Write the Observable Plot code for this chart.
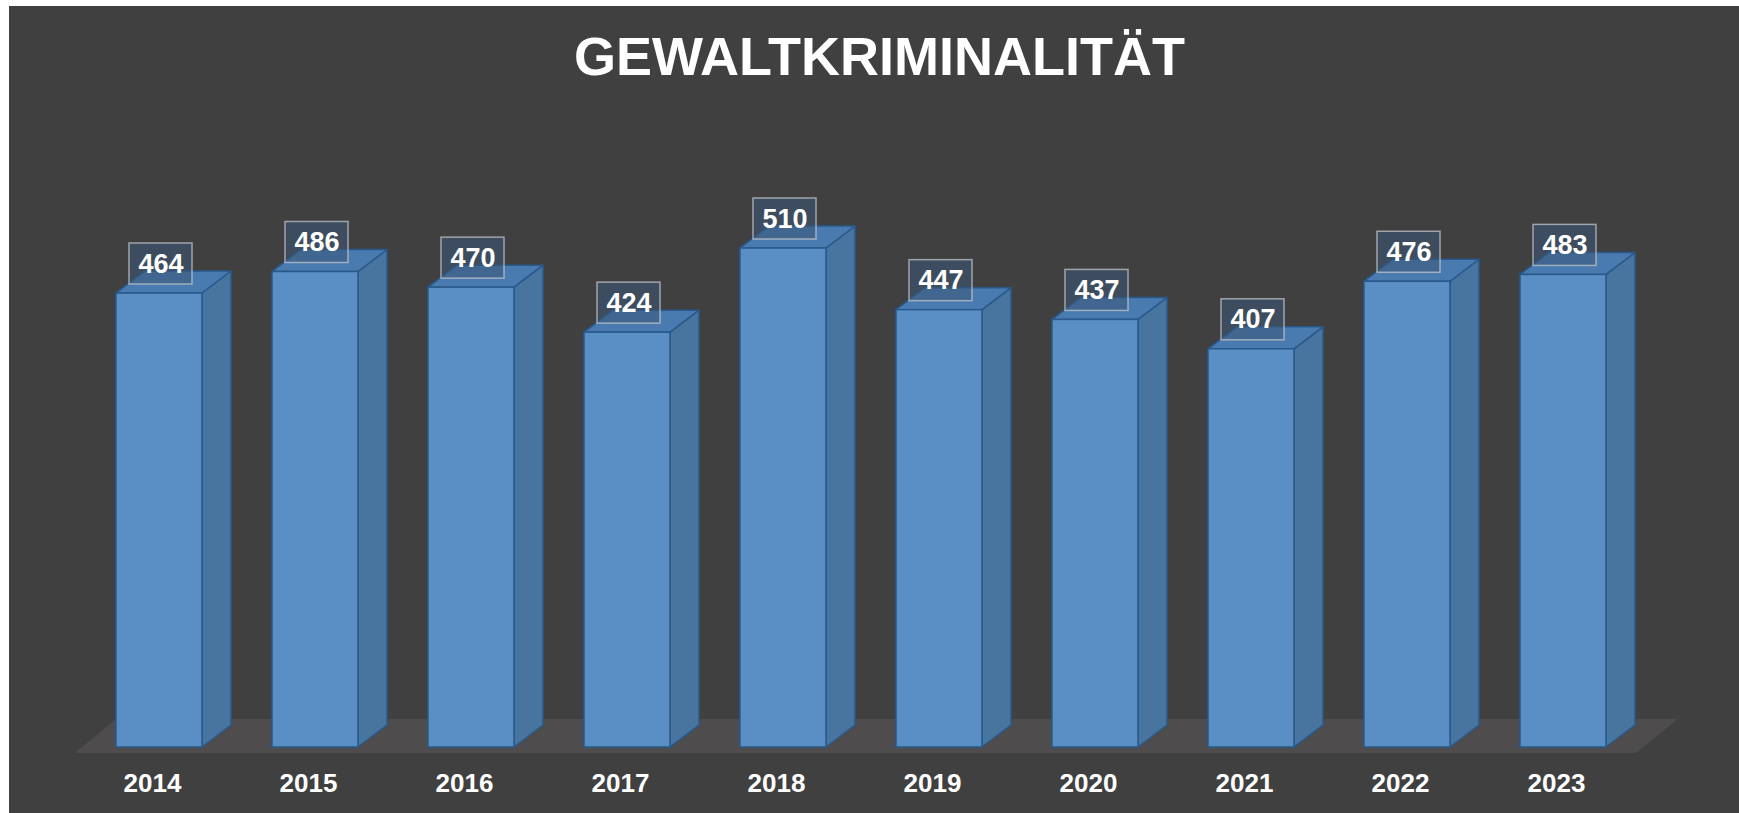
<!DOCTYPE html>
<html><head><meta charset="utf-8">
<script src="https://cdn.jsdelivr.net/npm/d3@7"></script>
<script src="https://cdn.jsdelivr.net/npm/@observablehq/plot@0.6"></script>
<style>
html,body{margin:0;padding:0;background:#fff;}
#wrap{position:absolute;left:9px;top:6px;width:1730px;height:807px;background:#404040;overflow:hidden;}
#title{height:94px;box-sizing:border-box;padding-top:23px;padding-left:11px;font-family:"Liberation Sans",Arial,sans-serif;font-weight:bold;font-size:54px;line-height:54px;color:#fff;text-align:center;white-space:nowrap;}
#chart svg{display:block;}
#chart svg text{font-family:"Liberation Sans",Arial,sans-serif;font-weight:bold;}
</style></head><body>
<div id="wrap"><div id="title">GEWALTKRIMINALITÄT</div><div id="chart"></div></div>
<script>
const years = ["2014","2015","2016","2017","2018","2019","2020","2021","2022","2023"];
const values = [464, 486, 470, 424, 510, 447, 437, 407, 476, 483];
const data = years.map((year, i) => ({year, value: values[i]}));

const DX = 29, DY = 22;
const pts = a => a.map(p => p.join(",")).join(" ");

function bars3d(index, scales) {
  const g = d3.create("svg:g");
  const x = scales.x, y = scales.y, bw = x.bandwidth();
  const y0 = y(0);
  const xl = x(years[0]) - 41;
  const xr = x(years[years.length - 1]) + bw + 30;
  g.append("polygon")
    .attr("points", pts([[xl, y0 + 6], [xr, y0 + 6], [xr + 42, y0 - 28], [xl + 41, y0 - 28]]))
    .attr("fill", "#4e4c4c");
  for (const i of index) {
    const d = data[i];
    const x0 = x(d.year), x1 = x0 + bw, yt = y(d.value);
    g.append("polygon")
      .attr("points", pts([[x1, yt], [x1 + DX, yt - DY], [x1 + DX, y0 - DY], [x1, y0]]))
      .attr("fill", "#4874a0").attr("stroke", "#29598b").attr("stroke-width", 1.5).attr("stroke-linejoin", "round");
    g.append("polygon")
      .attr("points", pts([[x0, yt], [x0 + DX, yt - DY], [x1 + DX, yt - DY], [x1, yt]]))
      .attr("fill", "#4a7bb0").attr("stroke", "#29598b").attr("stroke-width", 1.5).attr("stroke-linejoin", "round");
    g.append("rect")
      .attr("x", x0).attr("y", yt).attr("width", bw).attr("height", y0 - yt)
      .attr("fill", "#5a8fc5").attr("stroke", "#29598b").attr("stroke-width", 1.5);
  }
  return g.node();
}

function boxes(index, scales) {
  const g = d3.create("svg:g");
  const x = scales.x, y = scales.y, bw = x.bandwidth();
  for (const i of index) {
    const d = data[i];
    const cx = x(d.year) + bw / 2 + 1.5, cy = y(d.value) - 29.5;
    g.append("rect")
      .attr("x", cx - 31.5).attr("y", cy - 20.5).attr("width", 63).attr("height", 41)
      .attr("fill", "#3a5878").attr("fill-opacity", 0.55)
      .attr("stroke", "#c0c4c8").attr("stroke-opacity", 0.75).attr("stroke-width", 1.5);
  }
  return g.node();
}

const chart = Plot.plot({
  width: 1730,
  height: 713,
  marginLeft: 33,
  marginRight: 59,
  marginTop: 148,
  marginBottom: 66,
  style: {background: "transparent", color: "white", overflow: "visible"},
  x: {type: "band", domain: years, padding: 0.451, label: null},
  y: {domain: [0, 510], axis: null},
  marks: [
    Plot.barY(data, {x: "year", y: "value", render: bars3d}),
    Plot.dot(data, {x: "year", y: "value", render: boxes}),
    Plot.text(data, {x: "year", y: "value", text: d => String(d.value), dx: 1.5, dy: -29.5, fill: "white", fontSize: 27, fontWeight: "bold"}),
    Plot.axisX({tickSize: 0, tickPadding: 26, fontSize: 26, fontWeight: "bold", dx: -7, label: null})
  ]
});
document.getElementById("chart").append(chart);
</script>
</body></html>
